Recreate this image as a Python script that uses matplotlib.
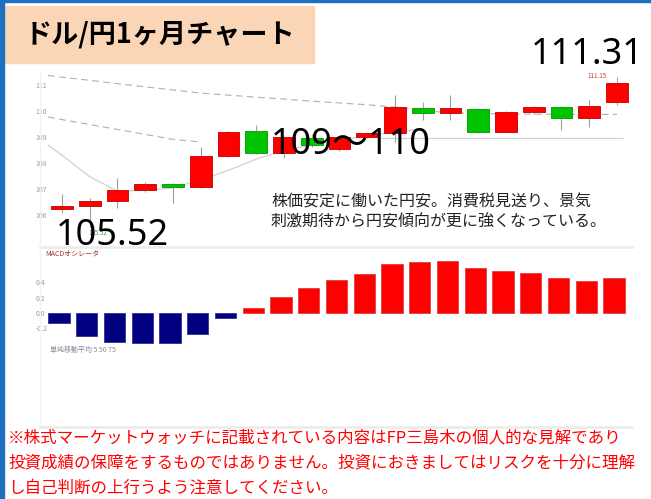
import matplotlib.pyplot as plt
from matplotlib.patches import Rectangle
from matplotlib.lines import Line2D
import numpy as np

plt.rcParams['font.family'] = ['Noto Sans CJK JP', 'DejaVu Sans']

W, H = 651, 499

# ドル/円 日足 21本 (値は画像から読み取り)
opens  = [106.22, 106.35, 106.55, 106.95, 107.20, 107.07, 108.28, 109.23, 108.37, 108.98, 108.55,
          109.01, 109.17, 110.13, 109.91, 110.07, 109.20, 109.95, 110.14, 109.72, 110.36]
closes = [106.36, 106.54, 106.95, 107.20, 107.07, 108.27, 109.20, 108.37, 109.01, 108.70, 109.01,
          109.14, 110.15, 109.91, 110.10, 109.20, 109.95, 110.15, 109.72, 110.20, 111.06]
highs  = [106.81, 106.64, 107.41, 107.28, 107.22, 108.60, 109.25, 109.46, 109.05, 109.10, 109.05,
          109.20, 110.62, 110.36, 110.62, 110.10, 110.00, 110.20, 110.18, 110.42, 111.31]
lows   = [106.08, 105.52, 106.26, 106.90, 106.45, 107.05, 108.25, 108.35, 108.18, 108.60, 108.45,
          108.95, 108.80, 109.65, 109.65, 109.15, 109.18, 109.90, 109.27, 109.40, 110.23]

# 移動平均 (先頭は左端の半日分)
ma_days = np.concatenate([[-0.5], np.arange(21)])
ma_long = [111.37, 111.30, 111.18, 111.05, 110.93, 110.81, 110.69, 110.61, 110.53, 110.46, 110.38,
           110.31, 110.24, 110.15, 110.02, 109.93, 109.90, 109.89, 109.88, 109.88, 109.87, 109.87]
ma_mid = [109.77, 109.67, 109.48, 109.29, 109.10, 108.91, 108.81] + [np.nan] * 15
ma_short = [108.69, 108.30, 107.47, 106.92, 106.95, 107.04, 107.35, 107.72, 108.15, 108.48, 108.70,
            108.88, 109.05, 109.20, 109.30] + [np.nan] * 7
support = 108.95

# MACDオシレータ
macd = [-0.125, -0.30, -0.38, -0.39, -0.39, -0.27, -0.06, 0.06, 0.21, 0.32, 0.43,
        0.50, 0.63, 0.66, 0.68, 0.58, 0.55, 0.52, 0.45, 0.42, 0.45]

price_ticks = [106, 107, 108, 109, 110, 111]
macd_ticks = [-0.2, 0.0, 0.2, 0.4]

title = 'ドル/円1ヶ月チャート'
comment = ['株価安定に働いた円安。消費税見送り、景気', '刺激期待から円安傾向が更に強くなっている。']
note = ['※株式マーケットウォッチに記載されている内容はFP三島木の個人的な見解であり',
        '投資成績の保障をするものではありません。投資におきましてはリスクを十分に理解',
        'し自己判断の上行うよう注意してください。']


def box(l, t, r, b):
    return [l / W, 1 - b / H, (r - l) / W, (b - t) / H]


def fx(x):
    return x / W


def fy(y):
    return 1 - y / H


fig = plt.figure(figsize=(6.51, 4.99), dpi=100)
fig.patch.set_facecolor('white')

# 枠・タイトル
fig.add_artist(Rectangle((0, 0), fx(4), 1, transform=fig.transFigure, color='#1F70C1', zorder=5))
fig.add_artist(Rectangle((0, fy(2)), 1, 2 / H, transform=fig.transFigure, color='#1F70C1', zorder=5))
fig.add_artist(Rectangle((fx(5), fy(63)), 309 / W, 57 / H, transform=fig.transFigure,
                         color='#FBD6B6', zorder=1))
fig.text(fx(25), fy(35), title, fontsize=19.5, fontweight='bold', va='center', zorder=6)

for y in (247, 427):
    fig.add_artist(Line2D([fx(40), fx(632)], [fy(y), fy(y)], color='#ececec', lw=2))
fig.add_artist(Line2D([fx(40), fx(40)], [fy(72), fy(425)], color='#f2f2f2', lw=1))

days = np.arange(len(opens))

# ローソク足
ax = fig.add_axes(box(33, 70, 640, 247))
ax.set_xlim(-1.045, 20.83)
ax.set_ylim(104.77, 111.577)
ax.plot(ma_days, ma_long, color='#b0b0b0', lw=0.8, ls=(0, (6, 4)), zorder=1)
ax.plot(ma_days, ma_mid, color='#b0b0b0', lw=0.8, ls=(0, (6, 4)), zorder=1)
ax.plot(ma_days, ma_short, color='#d0d0d0', lw=0.9, zorder=1)
ax.hlines(support, 11.5, 20.2, color='#d0d0d0', lw=0.9, zorder=1)
ax.vlines(days, lows, highs, color='#a0a0a0', lw=0.8, zorder=2)
up = np.array(closes) >= np.array(opens)
body = np.abs(np.array(closes) - np.array(opens))
bottom = np.minimum(opens, closes)
ax.bar(days[up], body[up], bottom=bottom[up], width=0.79, color='#FF0000',
       edgecolor='#C81010', lw=0.7, zorder=3)
ax.bar(days[~up], body[~up], bottom=bottom[~up], width=0.79, color='#00C400',
       edgecolor='#10A010', lw=0.7, zorder=3)
ax.set_yticks(price_ticks)
ax.set_yticklabels([str(t) for t in price_ticks])
ax.tick_params(axis='y', length=0, pad=-1.5, labelsize=5, labelcolor='#9a9a9a')
for lab in ax.get_yticklabels():
    lab.set_horizontalalignment('left')
ax.set_xticks([])
for s in ax.spines.values():
    s.set_visible(False)
ax.patch.set_alpha(0)
ax.text(days[-1] - 1.05, highs[-1] - 0.1, '111.15', fontsize=4.5, color='#c04040', va='bottom')
ax.text(days[1] - 0.05, lows[1] - 0.05, '105.52', fontsize=4.5, color='#40a040', va='top')

# MACD
ax2 = fig.add_axes(box(30, 250, 637, 420))
ax2.set_xlim(-1.045, 20.83)
ax2.set_ylim(-1.39, 0.818)
macd_arr = np.array(macd)
cols = np.where(macd_arr >= 0, '#FF0000', '#000080')
ax2.bar(days, macd_arr, width=0.77, color=cols, edgecolor=np.where(macd_arr >= 0, '#E04040', '#303090'),
        lw=0.6)
ax2.set_yticks(macd_ticks)
ax2.set_yticklabels(['%.1f' % t for t in macd_ticks])
ax2.tick_params(axis='y', length=0, pad=-4.3, labelsize=5, labelcolor='#9a9a9a')
for lab in ax2.get_yticklabels():
    lab.set_horizontalalignment('left')
ax2.set_xticks([])
for s in ax2.spines.values():
    s.set_visible(False)
ax2.patch.set_alpha(0)
fig.text(fx(45), fy(254), 'MACDオシレータ', fontsize=5, color='#a03030', va='center')
fig.text(fx(50), fy(350), '単純移動平均 5 50 75', fontsize=5, color='#8a8a9a', va='center')

# 注釈
fig.text(fx(56), fy(245), '105.52', fontsize=26, family=['Noto Sans', 'DejaVu Sans'], va='baseline', zorder=6)
fig.text(fx(531), fy(64), '111.31', fontsize=26, family=['Noto Sans', 'DejaVu Sans'], va='baseline', zorder=6)
fig.text(fx(271), fy(154), '109～110', fontsize=26, family=['Noto Sans', 'Noto Sans CJK JP'],
         va='baseline', zorder=6)
fig.text(fx(271), fy(202), comment[0], fontsize=11.5, va='center', color='#222222')
fig.text(fx(271), fy(222), comment[1], fontsize=11.5, va='center', color='#222222')

for i, line in enumerate(note):
    fig.text(fx(8), fy(438 + 25 * i), line, fontsize=11.9, color='#FF0000', va='center')

fig.savefig('out.png', dpi=100)
